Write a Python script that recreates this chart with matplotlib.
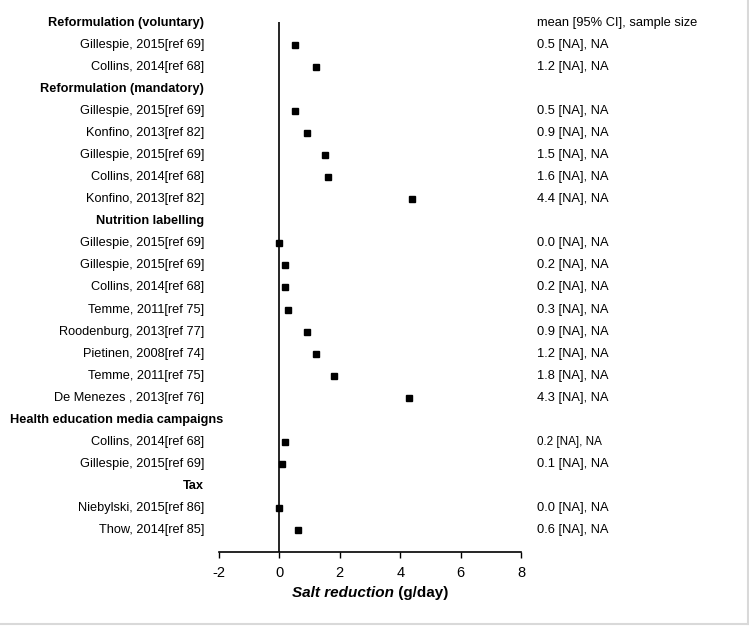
import matplotlib
matplotlib.use("Agg")
import matplotlib.pyplot as plt
from matplotlib.lines import Line2D

plt.rcParams['font.family'] = ['Liberation Sans', 'DejaVu Sans']

labels = [
    "Reformulation (voluntary)",
    "Gillespie, 2015[ref 69]",
    "Collins, 2014[ref 68]",
    "Reformulation (mandatory)",
    "Gillespie, 2015[ref 69]",
    "Konfino, 2013[ref 82]",
    "Gillespie, 2015[ref 69]",
    "Collins, 2014[ref 68]",
    "Konfino, 2013[ref 82]",
    "Nutrition labelling",
    "Gillespie, 2015[ref 69]",
    "Gillespie, 2015[ref 69]",
    "Collins, 2014[ref 68]",
    "Temme, 2011[ref 75]",
    "Roodenburg, 2013[ref 77]",
    "Pietinen, 2008[ref 74]",
    "Temme, 2011[ref 75]",
    "De Menezes , 2013[ref 76]",
    "Health education media campaigns",
    "Collins, 2014[ref 68]",
    "Gillespie, 2015[ref 69]",
    "Tax",
    "Niebylski, 2015[ref 86]",
    "Thow, 2014[ref 85]",
]
is_header = [True, False, False, True, False, False, False, False, False, True,
             False, False, False, False, False, False, False, False, True,
             False, False, True, False, False]
means = [None, 0.5, 1.2, None, 0.5, 0.9, 1.5, 1.6, 4.4, None,
         0.0, 0.2, 0.2, 0.3, 0.9, 1.2, 1.8, 4.3, None,
         0.2, 0.1, None, 0.0, 0.6]
right_texts = ["mean [95% CI], sample size", "0.5 [NA], NA", "1.2 [NA], NA", "",
               "0.5 [NA], NA", "0.9 [NA], NA", "1.5 [NA], NA", "1.6 [NA], NA", "4.4 [NA], NA", "",
               "0.0 [NA], NA", "0.2 [NA], NA", "0.2 [NA], NA", "0.3 [NA], NA", "0.9 [NA], NA",
               "1.2 [NA], NA", "1.8 [NA], NA", "4.3 [NA], NA", "",
               "0.2 [NA], NA", "0.1 [NA], NA", "", "0.0 [NA], NA", "0.6 [NA], NA"]
x_ticks = [-2, 0, 2, 4, 6, 8]

W, H = 749, 626
fig = plt.figure(figsize=(W / 100, H / 100), dpi=100)
fig.patch.set_facecolor('white')

left_px, right_px = 219, 521
top_px, bot_px = 22, 552
ax = fig.add_axes([left_px / W, 1 - bot_px / H, (right_px - left_px) / W, (bot_px - top_px) / H])

row_h = 22.04
ax.set_xlim(-2, 8)
ax.set_ylim((bot_px - 23) / row_h, (top_px - 23) / row_h)

xs = [m for m in means if m is not None]
ys = [i for i, m in enumerate(means) if m is not None]
ax.plot(xs, ys, linestyle='none', marker='s', markersize=4.6, color='black')
ax.axvline(0, color='black', linewidth=1.2)

for s in ['top', 'right', 'left']:
    ax.spines[s].set_visible(False)
ax.spines['bottom'].set_linewidth(1.2)
ax.set_yticks([])
ax.set_xticks(x_ticks)
ax.set_xticklabels([str(t) for t in x_ticks])
ax.tick_params(axis='x', direction='out', length=4, width=1.0, labelsize=10.5, pad=6)

tr = ax.get_yaxis_transform()
lab_x = (204 - left_px) / (right_px - left_px)
lab_x_wide = (223 - left_px) / (right_px - left_px)
rt_x = (537 - left_px) / (right_px - left_px)
for i, (lab, hd) in enumerate(zip(labels, is_header)):
    xx = lab_x_wide if i == 18 else lab_x
    ax.text(xx, i, lab, transform=tr, ha='right', va='center', fontsize=9.2,
            fontweight='bold' if hd else 'normal', clip_on=False)
for i, t in enumerate(right_texts):
    if not t:
        continue
    fs = 8.4 if i == 19 else 9.3
    ax.text(rt_x, i, t, transform=tr, ha='left', va='center', fontsize=fs, clip_on=False)

# x label: italic bold part + bold part, centred on the axis
fig.canvas.draw()
r = fig.canvas.get_renderer()
y_lab = 1 - 593 / H
t1 = fig.text(0, y_lab, "Salt reduction", ha='left', va='center', fontsize=11,
              fontweight='bold', fontstyle='italic')
t2 = fig.text(0, y_lab, " (g/day)", ha='left', va='center', fontsize=11, fontweight='bold')
w1 = t1.get_window_extent(r).width
w2 = t2.get_window_extent(r).width
start = 370 - (w1 + w2) / 2
t1.set_x(start / W)
t2.set_x((start + w1) / W)

fig.add_artist(Line2D([0, 1 - 1.5 / W], [1 - 623.5 / H, 1 - 623.5 / H], transform=fig.transFigure, color='#d9d9d9', linewidth=1.5))
fig.add_artist(Line2D([1 - 1.5 / W, 1 - 1.5 / W], [1 - 623.5 / H, 1], transform=fig.transFigure, color='#d9d9d9', linewidth=1.5))

fig.savefig("out.png", dpi=100, facecolor='white')
